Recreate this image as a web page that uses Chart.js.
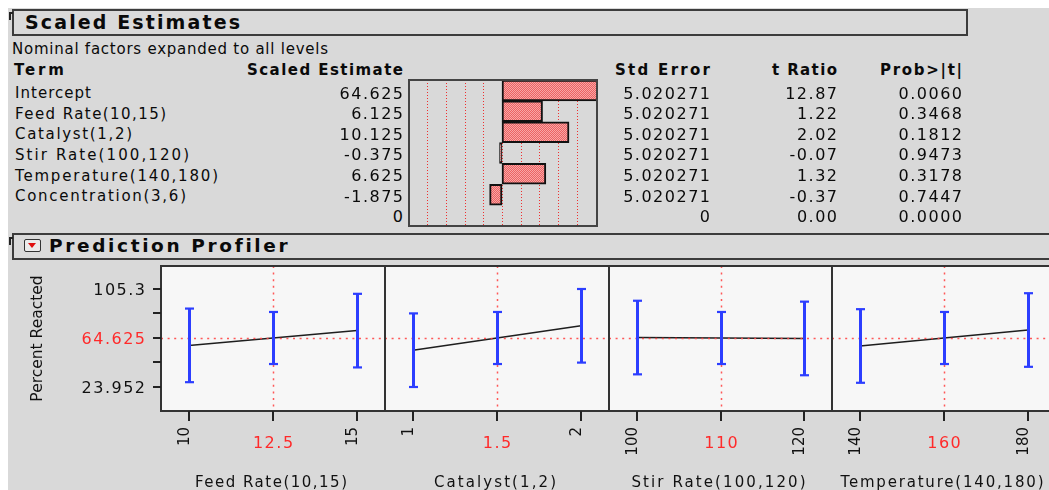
<!DOCTYPE html>
<html>
<head>
<meta charset="utf-8">
<title>Scaled Estimates and Prediction Profiler</title>
<script src="https://cdn.jsdelivr.net/npm/chart.js@4.4.1/dist/chart.umd.min.js"></script>
<style>
  html, body { margin: 0; padding: 0; width: 1049px; height: 490px; overflow: hidden; background: #ffffff; }
  #sheet { position: absolute; left: 8px; top: 8px; right: 0; bottom: 0; background: #d9d9d9; }
  .hdr { position: absolute; box-sizing: border-box; border: 2px solid #3c3c3c; background: #dadada; }
  .twisty { position: absolute; width: 2px; height: 8px; background: #222; }
  .twisty::before { content: ""; position: absolute; left: 0; top: 0; width: 4px; height: 2px; background: #222; }
  #menu { position: absolute; left: 24px; top: 239px; width: 17px; height: 13px; box-sizing: border-box;
          border: 1.5px solid #333; border-radius: 2px; background: #ececec; }
  #menu::after { content: ""; position: absolute; left: 3px; top: 3px; width: 0; height: 0;
          border-left: 4.5px solid transparent; border-right: 4.5px solid transparent; border-top: 5px solid #e01010; }
  canvas { position: absolute; }
  .t { position: absolute; white-space: nowrap; font-family: "DejaVu Sans", Verdana, sans-serif; color: #0a0a0a; }
</style>
</head>
<body>
<div id="sheet"></div>
<div class="hdr" style="left:12px; top:9px; width:956px; height:27px"></div>
<div class="twisty" style="left:9px; top:12px"></div>
<div class="hdr" style="left:12px; top:233px; width:1045px; height:27px"></div>
<div class="twisty" style="left:9px; top:237px"></div>
<div id="menu"></div>

<canvas id="estBars" width="196" height="154" style="left:405px; top:76px"></canvas>
<canvas id="panel0" width="385" height="228" style="left:0px; top:262px"></canvas>
<canvas id="panel1" width="224" height="228" style="left:385px; top:262px"></canvas>
<canvas id="panel2" width="223" height="228" style="left:609px; top:262px"></canvas>
<canvas id="panel3" width="224" height="228" style="left:832px; top:262px"></canvas>

<script>
// ---- Scaled Estimates table ----
const terms = ['Intercept', 'Feed Rate(10,15)', 'Catalyst(1,2)', 'Stir Rate(100,120)',
               'Temperature(140,180)', 'Concentration(3,6)', ''];
const scaledEstimates = [64.625, 6.125, 10.125, -0.375, 6.625, -1.875, 0];
const stdErrors = [5.020271, 5.020271, 5.020271, 5.020271, 5.020271, 5.020271, 0];
const tRatios = [12.87, 1.22, 2.02, -0.07, 1.32, -0.37, 0];
const probValues = [0.0060, 0.3468, 0.1812, 0.9473, 0.3178, 0.7447, 0];
const estimateGridValues = [-11.28, -8.46, -5.64, -2.82, 0, 2.82, 5.64, 8.46, 11.28];

// ---- Prediction Profiler ----
const factorNames = ['Feed Rate(10,15)', 'Catalyst(1,2)', 'Stir Rate(100,120)', 'Temperature(140,180)'];
const levelTicks = [[10, 12.5, 15], [1, 1.5, 2], [100, 110, 120], [140, 160, 180]];
const levelTickLabels = [['10', '12.5', '15'], ['1', '1.5', '2'], ['100', '110', '120'], ['140', '160', '180']];
const currentSettings = [12.5, 1.5, 110, 160];
const predictedResponse = [[58.5, 64.625, 70.75], [54.5, 64.625, 74.75], [65.0, 64.625, 64.25], [58.0, 64.625, 71.25]];
const lowerLimit = [[27.952, 43.024, 40.202], [23.952, 43.024, 44.202], [34.452, 43.024, 33.702], [27.452, 43.024, 40.702]];
const upperLimit = [[89.048, 86.226, 101.298], [85.048, 86.226, 105.298], [95.548, 86.226, 94.798], [88.548, 86.226, 101.798]];
const currentResponse = 64.625;
const responseTicks = [23.952, 44.289, 64.625, 84.962, 105.3];
const responseTickLabels = ['23.952', '', '64.625', '', '105.3'];
const responseRange = [4.03, 124.39];
const responseName = 'Percent Reacted';

// ---------------------------------------------------------------
const FONT = '"DejaVu Sans", Verdana, sans-serif';
const RED = '#ff2a2a';

// HTML text; optional target width spreads the letters like the Geneva face
function label(text, o) {
  const el = document.createElement('div');
  el.className = 't';
  el.textContent = text;
  el.style.fontSize = o.size + 'px';
  el.style.lineHeight = o.size + 'px';
  if (o.bold) el.style.fontWeight = 'bold';
  if (o.color) el.style.color = o.color;
  el.style.top = (o.cy - 0.48 * o.size) + 'px';
  document.body.appendChild(el);
  const n = [...text].length;
  const nat = el.getBoundingClientRect().width;
  const ls = (o.w != null && n > 1) ? (o.w - nat) / (n - 1) : (o.ls || 0);
  el.style.letterSpacing = ls + 'px';
  const vis = nat + (n - 1) * ls;
  el.style.left = (o.right != null ? o.right - vis : o.left) + 'px';
}

label('Scaled Estimates', { left: 25, cy: 22, size: 19, bold: true, w: 215 });
label('Nominal factors expanded to all levels', { left: 12, cy: 49.5, size: 15, w: 316 });
label('Term', { left: 14, cy: 70.5, size: 15, bold: true, w: 50 });
label('Scaled Estimate', { right: 403, cy: 70.5, size: 15, bold: true, w: 156 });
label('Std Error', { right: 710, cy: 70.5, size: 15, bold: true, w: 95 });
label('t Ratio', { right: 837, cy: 70.5, size: 15, bold: true, w: 65 });
label('Prob>|t|', { right: 962, cy: 70.5, size: 15, bold: true, w: 82 });
label('Prediction Profiler', { left: 49, cy: 245.5, size: 18.5, bold: true, w: 238 });

const termWidths = [76, 151, 117, 174, 203, 171];
terms.forEach((term, i) => {
  const cy = 93.5 + i * 20.55;
  if (term) label(term, { left: 15, cy, size: 15, w: termWidths[i] });
  const num = { cy, size: 16, ls: 1.5 };
  label(String(scaledEstimates[i]), { ...num, right: 403 });
  label(String(stdErrors[i]), { ...num, right: 710 });
  label(tRatios[i].toFixed(2), { ...num, right: 837 });
  label(probValues[i].toFixed(4), { ...num, right: 962 });
});

// ---- estimate bars ----
const barCanvas = document.getElementById('estBars');
function stipple(ctx) {
  const c = document.createElement('canvas');
  c.width = 2; c.height = 2;
  const g = c.getContext('2d');
  g.fillStyle = '#f8a6a6'; g.fillRect(0, 0, 2, 2);
  g.fillStyle = '#ec6262'; g.fillRect(0, 0, 1, 1); g.fillRect(1, 1, 1, 1);
  return ctx.createPattern(c, 'repeat');
}

const estimateGrid = {
  id: 'estimateGrid',
  beforeDatasetsDraw(chart) {
    const { ctx, chartArea: a, scales: { x } } = chart;
    ctx.save();
    ctx.strokeStyle = '#ee3030';
    ctx.lineWidth = 1;
    ctx.setLineDash([1, 2]);
    estimateGridValues.forEach(v => {
      const px = Math.round(x.getPixelForValue(v)) + 0.5;
      ctx.beginPath(); ctx.moveTo(px, a.top); ctx.lineTo(px, a.bottom); ctx.stroke();
    });
    ctx.restore();
  },
  afterDraw(chart) {
    const { ctx, chartArea: a } = chart;
    ctx.save();
    ctx.strokeStyle = '#444';
    ctx.lineWidth = 2;
    ctx.strokeRect(a.left, a.top, a.right - a.left, a.bottom - a.top);
    ctx.restore();
  }
};

new Chart(barCanvas, {
  type: 'bar',
  data: {
    labels: terms,
    datasets: [{
      data: scaledEstimates,
      backgroundColor: stipple(barCanvas.getContext('2d')),
      borderColor: '#111',
      borderWidth: 2,
      borderSkipped: false,
      categoryPercentage: 1,
      barPercentage: 1,
      clip: 0
    }]
  },
  options: {
    indexAxis: 'y',
    responsive: false,
    animation: false,
    events: [],
    layout: { padding: 4 },
    plugins: { legend: { display: false }, tooltip: { enabled: false } },
    scales: {
      x: { type: 'linear', display: false, min: -14.05, max: 14.35 },
      y: { type: 'category', display: false }
    }
  },
  plugins: [estimateGrid]
});

// ---- profiler panels ----
function fitText(ctx, text, x, y, align, w) {
  ctx.letterSpacing = '0px';
  const n = [...text].length;
  const nat = ctx.measureText(text).width;
  const ls = (w != null && n > 1) ? (w - nat) / (n - 1) : 0;
  ctx.letterSpacing = ls + 'px';
  ctx.textAlign = align;
  ctx.fillText(text, align === 'center' ? x + ls / 2 : x, y);
  ctx.letterSpacing = '0px';
}

function seg(ctx, x1, y1, x2, y2) {
  ctx.beginPath(); ctx.moveTo(x1, y1); ctx.lineTo(x2, y2); ctx.stroke();
}

const titleWidths = [152, 122, 174, 203];

const profilePanel = {
  id: 'profilePanel',
  beforeDraw(chart) {
    const { ctx, chartArea: a } = chart;
    ctx.save();
    ctx.fillStyle = '#f7f7f7';
    ctx.fillRect(a.left, a.top, a.right - a.left, a.bottom - a.top);
    ctx.restore();
  },
  afterDatasetsDraw(chart, args, opts) {
    const { ctx, chartArea: a, scales: { x, y } } = chart;
    const k = opts.index;
    ctx.save();

    // current-setting crosshairs
    ctx.strokeStyle = 'rgba(255,70,70,0.9)';
    ctx.lineWidth = 1.5;
    ctx.setLineDash([2, 4.6]);
    const hy = Math.round(y.getPixelForValue(currentResponse)) + 0.5;
    seg(ctx, a.left, hy, a.right, hy);
    const vx = Math.round(x.getPixelForValue(currentSettings[k])) + 0.5;
    seg(ctx, vx, a.top, vx, a.bottom);
    ctx.setLineDash([]);

    // confidence intervals
    ctx.strokeStyle = '#2c3eff';
    levelTicks[k].forEach((lv, j) => {
      const px = Math.round(x.getPixelForValue(lv)) + 0.5;
      const top = y.getPixelForValue(upperLimit[k][j]);
      const bot = y.getPixelForValue(lowerLimit[k][j]);
      ctx.lineWidth = 3;
      seg(ctx, px, top, px, bot);
      ctx.lineWidth = 2.2;
      seg(ctx, px - 4.5, top, px + 4.5, top);
      seg(ctx, px - 4.5, bot, px + 4.5, bot);
    });

    // frame
    ctx.strokeStyle = '#333';
    ctx.lineWidth = 2;
    ctx.strokeRect(a.left, a.top, a.right - a.left, a.bottom - a.top);

    // factor axis
    ctx.strokeStyle = '#222';
    ctx.fillStyle = '#111';
    levelTicks[k].forEach((lv, j) => {
      const px = Math.round(x.getPixelForValue(lv));
      ctx.lineWidth = 2;
      seg(ctx, px, a.bottom, px, a.bottom + 10);
      const txt = levelTickLabels[k][j];
      if (lv === currentSettings[k]) {
        ctx.font = '16px ' + FONT;
        ctx.fillStyle = RED;
        ctx.textBaseline = 'alphabetic';
        ctx.letterSpacing = '1.5px';
        ctx.textAlign = 'center';
        ctx.fillText(txt, px + 0.75, 447.8 - 262);
        ctx.letterSpacing = '0px';
      } else {
        ctx.save();
        ctx.font = '15px ' + FONT;
        ctx.fillStyle = '#111';
        ctx.translate(px - 0.5, 427 - 262);
        ctx.rotate(-Math.PI / 2);
        ctx.textAlign = 'right';
        ctx.textBaseline = 'alphabetic';
        ctx.fillText(txt, 0, 0);
        ctx.restore();
      }
    });
    ctx.font = '15px ' + FONT;
    ctx.fillStyle = '#111';
    ctx.textBaseline = 'alphabetic';
    fitText(ctx, factorNames[k], (a.left + a.right) / 2 - 2, 481 + 5.5 - 262, 'center', titleWidths[k]);

    // response axis on the first panel
    if (opts.showResponseAxis) {
      responseTicks.forEach((v, j) => {
        const py = Math.round(y.getPixelForValue(v));
        ctx.strokeStyle = '#222';
        ctx.lineWidth = 2;
        seg(ctx, a.left - 8, py, a.left, py);
        const txt = responseTickLabels[j];
        if (txt) {
          ctx.font = '16px ' + FONT;
          ctx.fillStyle = v === currentResponse ? RED : '#111';
          ctx.textBaseline = 'alphabetic';
          ctx.letterSpacing = '1.5px';
          ctx.textAlign = 'right';
          ctx.fillText(txt, a.left - 16 + 1.5, py + 5.8);
          ctx.letterSpacing = '0px';
        }
      });
      ctx.save();
      ctx.font = '15.5px ' + FONT;
      ctx.fillStyle = '#111';
      ctx.translate(36 + 5.5, (a.top + a.bottom) / 2);
      ctx.rotate(-Math.PI / 2);
      ctx.textAlign = 'center';
      ctx.textBaseline = 'alphabetic';
      ctx.fillText(responseName, 0, 0);
      ctx.restore();
    }
    ctx.restore();
  }
};

factorNames.forEach((name, k) => {
  const lv = levelTicks[k];
  const span = lv[2] - lv[0];
  new Chart(document.getElementById('panel' + k), {
    type: 'line',
    data: {
      datasets: [{
        data: lv.map((v, j) => ({ x: v, y: predictedResponse[k][j] })),
        borderColor: '#1e1e1e',
        borderWidth: 1.5,
        pointRadius: 0,
        tension: 0
      }]
    },
    options: {
      responsive: false,
      animation: false,
      events: [],
      layout: { padding: { left: k === 0 ? 161 : 0, right: 0, top: 4, bottom: 79 } },
      plugins: {
        legend: { display: false },
        tooltip: { enabled: false },
        profilePanel: { index: k, showResponseAxis: k === 0 }
      },
      scales: {
        x: { type: 'linear', display: false, min: lv[0] - span / 6, max: lv[2] + span / 6 },
        y: { type: 'linear', display: false, min: responseRange[0], max: responseRange[1] }
      }
    },
    plugins: [profilePanel]
  });
});
</script>
</body>
</html>
